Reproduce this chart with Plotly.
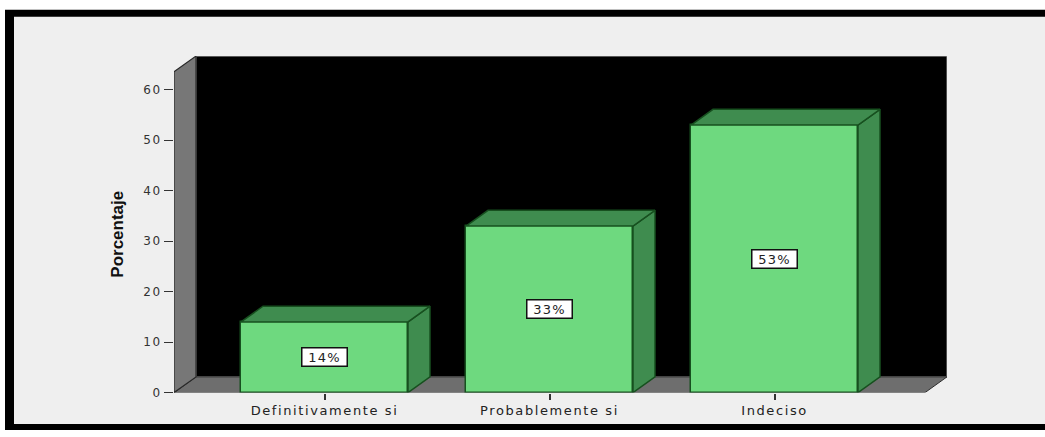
import plotly.graph_objects as go

# Survey results
categories = ["Definitivamente si", "Probablemente si", "Indeciso"]
percentages = [14, 33, 53]
label_texts = ["14%", "33%", "53%"]
y_ticks = [0, 10, 20, 30, 40, 50, 60]

W, H = 1045, 437


def py(p):
    """Paper y fraction for a pixel row measured from the top."""
    return 1 - p / H


def px(p):
    return p / W


def spaced(text, gap):
    return f'<span style="letter-spacing:{gap}px">{text}</span>'


# Pixel layout of the plotting box
px_left, px_right = 174, 947          # axis front-left edge .. back wall right edge
px_bottom, px_top = 399, 57           # value 0 on the front plane .. top of back wall
px_per_cat = 225.0
px_per_unit = 51.3 / 10.0
depth_px_x, depth_px_y = 22.0, 16.0   # 3D depth offset

x0 = -(324.5 - px_left) / px_per_cat
x1 = x0 + (px_right - px_left) / px_per_cat
y1 = (px_bottom - px_top) / px_per_unit
dx = depth_px_x / px_per_cat
dy = depth_px_y / px_per_unit
front_right = x1 - dx
front_top = y1 - dy
bar_w = 167.0 / px_per_cat
hw = bar_w / 2

FRONT = "#6ed97f"
SIDE = "#3f8c4f"
EDGE = "#17501f"
WALL = "#6e6e6e"
WALL_EDGE = "#2a2a2a"

fig = go.Figure()

# Front faces of the bars
fig.add_trace(go.Bar(
    x=list(range(len(categories))), y=percentages, width=bar_w,
    marker=dict(color=FRONT, line=dict(color=EDGE, width=1.5)),
    hoverinfo="skip", showlegend=False,
))

# Top and side faces of the bars
for i, v in enumerate(percentages):
    xl, xr = i - hw, i + hw
    fig.add_trace(go.Scatter(
        x=[xr, xr + dx, xr + dx, xr, xr], y=[0, dy, v + dy, v, 0],
        fill="toself", fillcolor=SIDE, mode="lines",
        line=dict(color=EDGE, width=1.5), hoverinfo="skip", showlegend=False,
    ))
    fig.add_trace(go.Scatter(
        x=[xl, xl + dx, xr + dx, xr, xl], y=[v, v + dy, v + dy, v, v],
        fill="toself", fillcolor=SIDE, mode="lines",
        line=dict(color=EDGE, width=1.5), hoverinfo="skip", showlegend=False,
    ))

shapes = []
# Outer frame
shapes.append(dict(type="rect", xref="paper", yref="paper",
                   x0=px(5), x1=1.0, y0=0, y1=py(10),
                   fillcolor="black", line=dict(width=0), layer="below"))
shapes.append(dict(type="rect", xref="paper", yref="paper",
                   x0=px(14), x1=1.0, y0=py(431), y1=py(17),
                   fillcolor="#efefef", line=dict(width=0), layer="below"))
# Back wall
shapes.append(dict(type="rect", xref="x", yref="y",
                   x0=x0 + dx, x1=x1, y0=dy, y1=y1,
                   fillcolor="black", line=dict(color="#9a9a9a", width=1), layer="below"))
# Floor
shapes.append(dict(type="path", xref="x", yref="y",
                   path=f"M {x0},0 L {front_right},0 L {x1},{dy} L {x0 + dx},{dy} Z",
                   fillcolor=WALL, line=dict(color=WALL_EDGE, width=1), layer="below"))
# Left wall
shapes.append(dict(type="path", xref="x", yref="y",
                   path=f"M {x0},0 L {x0},{front_top} L {x0 + dx},{y1} L {x0 + dx},{dy} Z",
                   fillcolor="#777777", line=dict(color=WALL_EDGE, width=1.2), layer="below"))

annotations = []
for i, (v, t) in enumerate(zip(percentages, label_texts)):
    annotations.append(dict(
        x=i, y=v / 2, xref="x", yref="y", text=spaced(t, 1.2), showarrow=False,
        font=dict(family="DejaVu Sans", size=13, color="#222222"),
        bgcolor="white", bordercolor="#111111", borderwidth=1.5, borderpad=1,
        width=42, height=15,
    ))
annotations.append(dict(
    x=px(106), y=py(238), xref="paper", yref="paper", text="<b>Porcentaje</b>",
    textangle=-90, showarrow=False,
    font=dict(family="Liberation Sans", size=17, color="#111111"),
))

fig.update_layout(
    width=W, height=H,
    margin=dict(l=0, r=0, t=0, b=0),
    paper_bgcolor="white",
    plot_bgcolor="rgba(0,0,0,0)",
    showlegend=False,
    bargap=0,
    shapes=shapes,
    annotations=annotations,
    xaxis=dict(
        domain=[px(px_left), px(px_right)],
        range=[x0, x1],
        tickmode="array", tickvals=list(range(len(categories))),
        ticktext=[spaced(c, 1.6) for c in categories],
        ticks="outside", ticklen=6, tickwidth=1.5, tickcolor="#333333",
        showgrid=False, zeroline=False, showline=False,
        tickfont=dict(family="DejaVu Sans", size=13, color="#222222"),
        fixedrange=True,
    ),
    yaxis=dict(
        domain=[py(px_bottom), py(px_top)],
        range=[0, y1],
        tickmode="array", tickvals=y_ticks,
        ticktext=[spaced(str(t), 1.5) for t in y_ticks],
        ticks="outside", ticklen=9, tickwidth=1, tickcolor="#333333",
        showgrid=False, zeroline=False, showline=False,
        tickfont=dict(family="DejaVu Sans", size=12, color="#333333"),
        fixedrange=True,
    ),
)

fig.write_html("out.html")
